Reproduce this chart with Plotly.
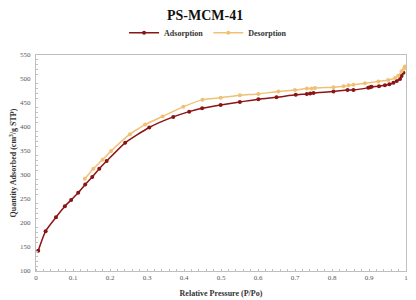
import plotly.graph_objects as go

ads_x = [0.006, 0.026, 0.054, 0.078, 0.095, 0.114, 0.133, 0.152, 0.171, 0.191, 0.241,
         0.306, 0.371, 0.414, 0.449, 0.499, 0.551, 0.601, 0.650, 0.702, 0.732, 0.741,
         0.750, 0.804, 0.842, 0.858, 0.898, 0.903, 0.907, 0.927, 0.943, 0.955, 0.966,
         0.975, 0.984, 0.988, 0.993]
ads_y = [142, 183, 212, 235, 248, 263, 280, 296, 313, 329, 367,
         399, 421, 432, 439, 446, 452, 458, 462, 467, 469, 470,
         471, 474, 477, 477, 482, 483, 484, 485, 487, 489, 492,
         496, 500, 506, 513]

des_x = [0.132, 0.155, 0.180, 0.203, 0.254, 0.295, 0.342, 0.398, 0.450, 0.499, 0.551,
         0.601, 0.655, 0.700, 0.732, 0.745, 0.754, 0.804, 0.831, 0.845, 0.858, 0.889,
         0.925, 0.952, 0.970, 0.979, 0.988, 0.995, 0.997]
des_y = [292, 313, 332, 350, 385, 405, 422, 442, 457, 461, 466,
         469, 474, 477, 480, 480, 481, 483, 485, 487, 488, 491,
         495, 498, 502, 507, 516, 522, 526]

x_tick_vals = [0, 0.1, 0.2, 0.3, 0.4, 0.5, 0.6, 0.7, 0.8, 0.9, 1]
x_tick_text = ["0", "0.1", "0.2", "0.3", "0.4", "0.5", "0.6", "0.7", "0.8", "0.9", "1"]

serif = "Liberation Serif"
ads_color = "#8B1414"
des_color = "#F0C074"

fig = go.Figure()
fig.add_trace(go.Scatter(x=ads_x, y=ads_y, mode="lines+markers", name="<b>Adsorption</b>",
                         line=dict(color=ads_color, width=1.5, shape="spline", smoothing=0.6),
                         marker=dict(color=ads_color, size=4)))
fig.add_trace(go.Scatter(x=des_x, y=des_y, mode="lines+markers", name="<b>Desorption</b>",
                         line=dict(color=des_color, width=1.5, shape="spline", smoothing=0.6),
                         marker=dict(color=des_color, size=4)))

fig.update_layout(
    width=408, height=292,
    margin=dict(l=28, r=10, t=40, b=29),
    paper_bgcolor="white", plot_bgcolor="white",
    title=dict(text="<b>PS-MCM-41</b>", x=0.483, xanchor="center", y=0.976, yanchor="middle",
               font=dict(family=serif, size=14, color="#111111")),
    legend=dict(orientation="h", x=0.465, xanchor="center", y=1.036, yanchor="bottom",
                font=dict(family=serif, size=8, color="#333333"), itemwidth=30,
                tracegroupgap=0, bgcolor="rgba(0,0,0,0)"),
    font=dict(family=serif),
)

fig.update_xaxes(range=[0, 1], tickvals=x_tick_vals, ticktext=x_tick_text, automargin=False,
                 showgrid=False, zeroline=False,
                 showline=True, linecolor="#BFBFBF", linewidth=1, mirror=True,
                 ticks="", tickfont=dict(family=serif, size=7, color="#595959"),
                 minor=dict(dtick=0.02, ticks="inside", ticklen=2, tickcolor="#BFBFBF"),
                 title=dict(text="<b>Relative Pressure (P/Po)</b>", standoff=8,
                            font=dict(family=serif, size=8, color="#333333")))
fig.update_yaxes(range=[100, 550], dtick=50, automargin=False, ticklabelstandoff=3,
                 showgrid=False, zeroline=False,
                 showline=True, linecolor="#BFBFBF", linewidth=1, mirror=True,
                 ticks="", tickfont=dict(family=serif, size=7, color="#595959"),
                 minor=dict(dtick=10, ticks="inside", ticklen=2, tickcolor="#BFBFBF"),
                 title=dict(text="<b>Quantity Adsorbed (cm<sup>3</sup>/g STP)</b>", standoff=9,
                            font=dict(family=serif, size=8, color="#333333")))

fig.write_html("out.html")
